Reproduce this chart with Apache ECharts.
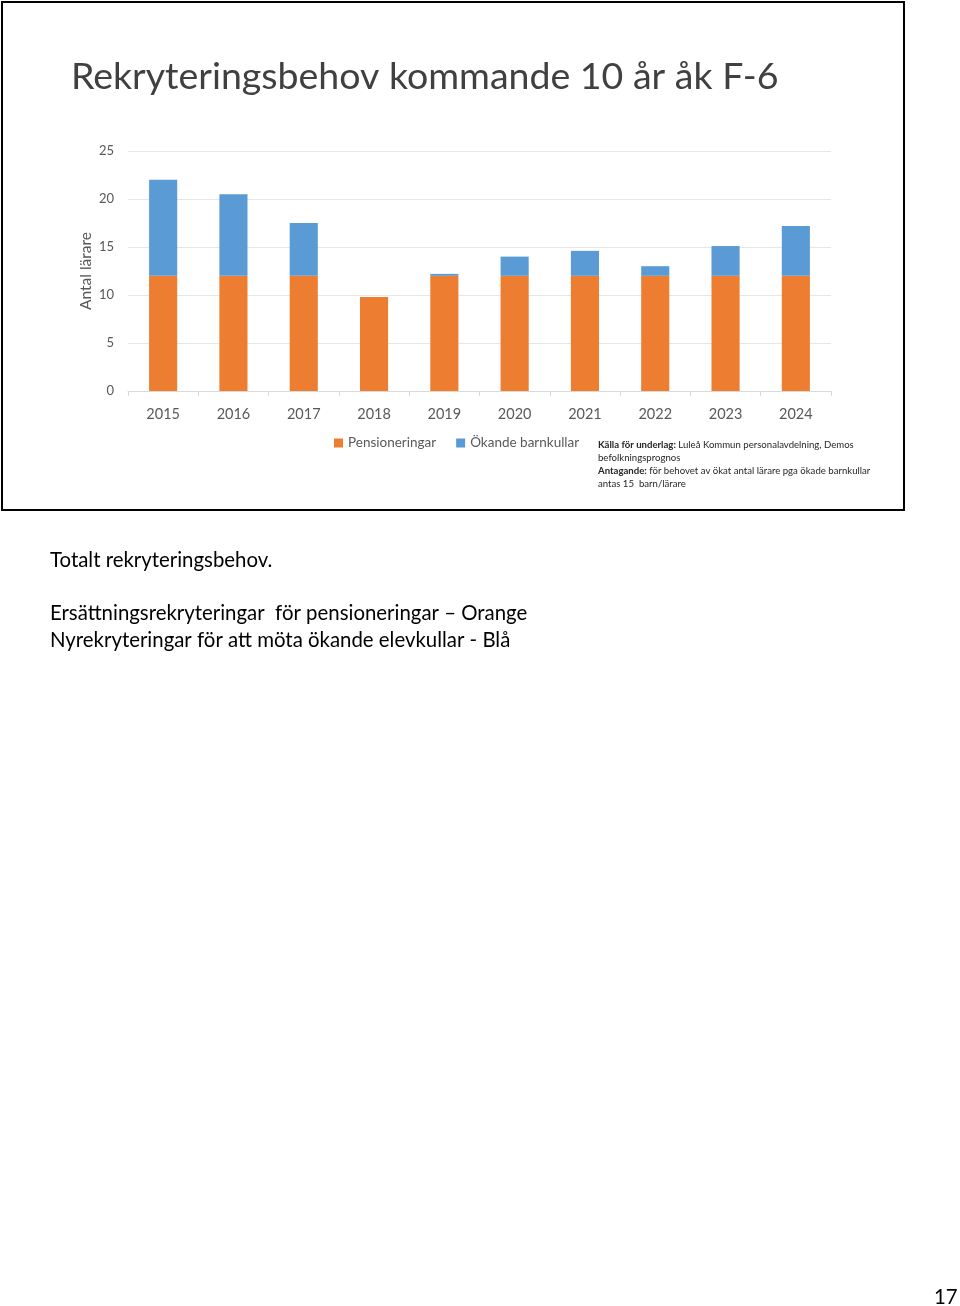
<!DOCTYPE html>
<html><head><meta charset="utf-8">
<script src="https://cdn.jsdelivr.net/npm/echarts@6/dist/echarts.min.js"></script>
<style>html,body{margin:0;padding:0;background:#fff}#c{width:960px;height:1306px}</style>
</head><body><div id="c"></div>
<script>
const categories = ['2015','2016','2017','2018','2019','2020','2021','2022','2023','2024'];
const pensioneringar = [12, 12, 12, 9.8, 12, 12, 12, 12, 12, 12];
const okandeBarnkullar = [10, 8.5, 5.5, 0, 0.2, 2, 2.6, 1, 3.1, 5.2];
const yTicks = [0, 5, 10, 15, 20, 25];
const seriesNames = ['Pensioneringar', 'Ökande barnkullar'];

const FONT = 'Lato, "Open Sans", sans-serif';
const chart = echarts.init(document.getElementById('c'), null, {renderer: 'canvas'});
chart.setOption({
  animation: false,
  backgroundColor: '#fff',
  textStyle: {fontFamily: FONT},
  grid: {left: 128, top: 151, width: 703, height: 240, containLabel: false},
  legend: {
    left: 329, top: 431, itemWidth: 9, itemHeight: 9, itemGap: 20,
    icon: 'rect',
    textStyle: {color: '#595959', fontSize: 13.5, fontFamily: FONT},
    data: seriesNames
  },
  xAxis: {
    type: 'category', data: categories,
    axisLine: {lineStyle: {color: '#d9d9d9'}},
    axisTick: {show: true, length: 5, lineStyle: {color: '#d9d9d9'}},
    axisLabel: {color: '#595959', fontSize: 14.5, margin: 16}
  },
  yAxis: {
    type: 'value', min: yTicks[0], max: yTicks[yTicks.length - 1], interval: 5,
    name: 'Antal lärare', nameLocation: 'middle', nameGap: 34, nameRotate: 90,
    nameMoveOverlap: false,
    nameTextStyle: {color: '#595959', fontSize: 15.5},
    axisLine: {show: false}, axisTick: {show: false},
    axisLabel: {color: '#595959', fontSize: 13, margin: 14},
    splitLine: {lineStyle: {color: '#e6e6e6'}}
  },
  series: [
    {name: seriesNames[0], type: 'bar', stack: 'a', data: pensioneringar, barWidth: '40%', itemStyle: {color: '#ED7D31'}},
    {name: seriesNames[1], type: 'bar', stack: 'a', data: okandeBarnkullar, barWidth: '40%', itemStyle: {color: '#5B9BD5'}}
  ],
  graphic: [
    {type: 'rect', shape: {x: 2, y: 2, width: 902, height: 508}, style: {fill: 'none', stroke: '#000', lineWidth: 2}, z: 10},
    {type: 'text', left: 71, top: 58, style: {text: 'Rekryteringsbehov kommande 10 år åk F-6', font: '37.5px ' + FONT, fill: '#404040'}},
    {type: 'text', left: 598, top: 439, style: {
      text: '{b|Källa för underlag:} Luleå Kommun personalavdelning, Demos\nbefolkningsprognos\n{b|Antagande:} för behovet av ökat antal lärare pga ökade barnkullar\nantas 15  barn/lärare',
      fill: '#262626', font: '9.6px ' + FONT, lineHeight: 12.7,
      rich: {b: {fontWeight: 'bold', fontSize: 9.6, fontFamily: FONT}}
    }},
    {type: 'text', left: 50, top: 550, style: {text: 'Totalt rekryteringsbehov.', font: '20.4px ' + FONT, fill: '#000'}},
    {type: 'text', left: 50, top: 603, style: {text: 'Ersättningsrekryteringar  för pensioneringar – Orange', font: '20.4px ' + FONT, fill: '#000'}},
    {type: 'text', left: 50, top: 630, style: {text: 'Nyrekryteringar för att möta ökande elevkullar - Blå', font: '20.4px ' + FONT, fill: '#000'}},
    {type: 'text', left: 934, top: 1287, style: {text: '17', font: '20.4px ' + FONT, fill: '#000'}}
  ]
});
</script></body></html>
